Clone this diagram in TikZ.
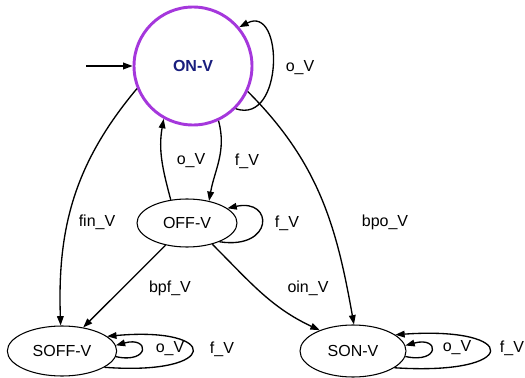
\documentclass[tikz,border=0pt]{standalone}
\usepackage{fontspec}
\setmainfont{Liberation Sans}
\usepackage{xcolor}
\usepackage{tikz}
\usetikzlibrary{arrows.meta, shapes.geometric}
\definecolor{onblue}{RGB}{25,30,125}
\definecolor{onpurple}{RGB}{165,55,220}

\begin{document}
\begin{tikzpicture}[x=0.75pt, y=-0.75pt, >={Triangle[length=7pt, width=5pt]},
    every node/.style={font=\fontsize{12}{14}\selectfont},
    state/.style={draw, ellipse, line width=0.8pt, inner sep=0pt},
    edge/.style={->, line width=1pt}]
\useasboundingbox (0,0) rectangle (525,378);
% states
\node[state, circle, draw=onpurple, line width=2.2pt, minimum size=88.5pt,
      text=onblue, font=\fontsize{12}{14}\selectfont\bfseries] (on) at (193,66) {ON-V};
\node[state, minimum width=75pt, minimum height=36pt] (off) at (187,223) {OFF-V};
\node[state, minimum width=82pt, minimum height=37.5pt] (soff) at (62,351) {SOFF-V};
\node[state, minimum width=79.5pt, minimum height=39pt] (son) at (353,351) {SON-V};
% initial arrow
\coordinate (init) at (86,66);
\draw[edge] (init) -- (on);
% transitions
\draw[edge] (on.-45) .. controls (284,125) and (284,4) .. (on.40);
\draw[edge] (on.-65) to[out=-75, in=80] (off.45);
\draw[edge] (off.125) to[out=105, in=-100] (on.-119);
\draw[edge] (off.-30) .. controls (274,250) and (274,198) .. (off.20);
\draw[edge] (on.202) to[out=230, in=92] (soff.93);
\draw[edge] (on.-25) to[out=-45, in=100] (son.88);
\draw[edge] (off.-134) -- (soff.48);
\draw[edge] (off.-40) to[out=-45, in=155] (son.148);
\draw[edge] (soff.-6) .. controls (150,364) and (150,336) .. (soff.6);
\draw[edge] (soff.-21) .. controls (221,376) and (221,326) .. (soff.18);
\draw[edge] (son.-6) .. controls (440,364) and (440,336) .. (son.6);
\draw[edge] (son.-22) .. controls (521,376) and (521,326) .. (son.21);
% labels
\node (l-on) at (300,68) {o\_V};
\node (l-ooff) at (191,161) {o\_V};
\node (l-fon) at (247,161) {f\_V};
\node (l-foff) at (287,223) {f\_V};
\node (l-fin) at (97,222) {fin\_V};
\node (l-bpo) at (385,222) {bpo\_V};
\node (l-bpf) at (170,288) {bpf\_V};
\node (l-oin) at (308,288) {oin\_V};
\node (l-osoff) at (170,349) {o\_V};
\node (l-fsoff) at (222,349) {f\_V};
\node (l-oson) at (457,348) {o\_V};
\node (l-fson) at (512,348) {f\_V};
\end{tikzpicture}
\end{document}
